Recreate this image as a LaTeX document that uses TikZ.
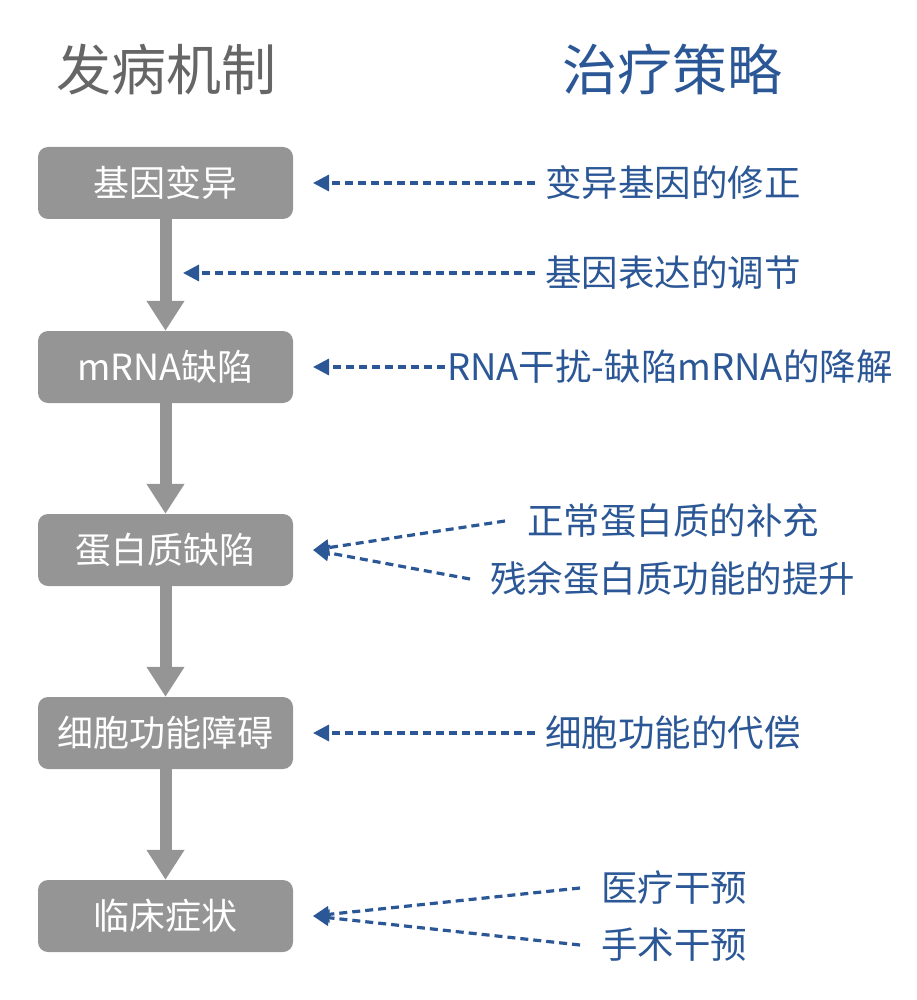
\documentclass[tikz,border=0pt]{standalone}
\usepackage{fontspec}
\setmainfont{Noto Sans CJK SC}
\usetikzlibrary{arrows.meta}
\definecolor{boxgray}{HTML}{959595}
\definecolor{titlegray}{HTML}{666666}
\definecolor{stratblue}{HTML}{2B5796}
\begin{document}
\begin{tikzpicture}[x=1pt,y=-1pt,
  mech/.style={fill=boxgray, rounded corners=10pt, minimum width=255pt, minimum height=72pt, inner sep=0pt, text=white, font=\fontsize{36}{42}\selectfont},
  strat/.style={anchor=west, inner sep=0pt, text=stratblue, font=\fontsize{36.5}{42}\selectfont},
  title/.style={inner sep=0pt, font=\fontsize{55}{64}\selectfont},
  flow/.style={draw=boxgray, line width=12pt, -{Triangle[width=36pt,length=30pt]}, shorten >=0pt},
  hint/.style={draw=stratblue, line width=3.2pt, dash pattern=on 8pt off 5pt, -{Triangle[width=16pt,length=16pt]}}
]
\useasboundingbox (0,0) rectangle (917,1000);
\node[title, text=titlegray] (t1) at (166,70) {发病机制};
\node[title, text=stratblue] (t2) at (672,70) {治疗策略};

\node[mech] (b1) at (165.5,183) {基因变异};
\node[mech] (b2) at (165.5,367) {mRNA缺陷};
\node[mech] (b3) at (165.5,550) {蛋白质缺陷};
\node[mech] (b4) at (165.5,733) {细胞功能障碍};
\node[mech] (b5) at (165.5,916) {临床症状};

\draw[flow] (b1.south) -- (b2.north);
\draw[flow] (b2.south) -- (b3.north);
\draw[flow] (b3.south) -- (b4.north);
\draw[flow] (b4.south) -- (b5.north);

\node[strat] (s1) at (545,183) {变异基因的修正};
\node[strat] (s2) at (545,273) {基因表达的调节};
\node[strat] (s3) at (447,367) {RNA干扰-缺陷mRNA的降解};
\node[strat] (s4a) at (527,521) {正常蛋白质的补充};
\node[strat] (s4b) at (490,579) {残余蛋白质功能的提升};
\node[strat] (s5) at (545,733) {细胞功能的代偿};
\node[strat] (s6a) at (601,888) {医疗干预};
\node[strat] (s6b) at (601,945) {手术干预};

\coordinate (e1) at (313,183);
\coordinate (e2) at (183,273);
\coordinate (e3) at (313,367);
\coordinate (e4) at (313,550);
\coordinate (e5) at (313,733);
\coordinate (e6) at (313,916);

\draw[hint] ([xshift=-10pt]s1.west) -- (e1);
\draw[hint] ([xshift=-10pt]s2.west) -- (e2);
\draw[hint] ([xshift=-2pt]s3.west) -- (e3);
\draw[hint] ([xshift=-22pt]s4a.west) -- (e4);
\draw[hint] ([xshift=-20pt]s4b.west) -- (e4);
\draw[hint] ([xshift=-21pt]s6a.west) -- (e6);
\draw[hint] ([xshift=-21pt]s6b.west) -- (e6);
\draw[hint] ([xshift=-10pt]s5.west) -- (e5);
\end{tikzpicture}
\end{document}
